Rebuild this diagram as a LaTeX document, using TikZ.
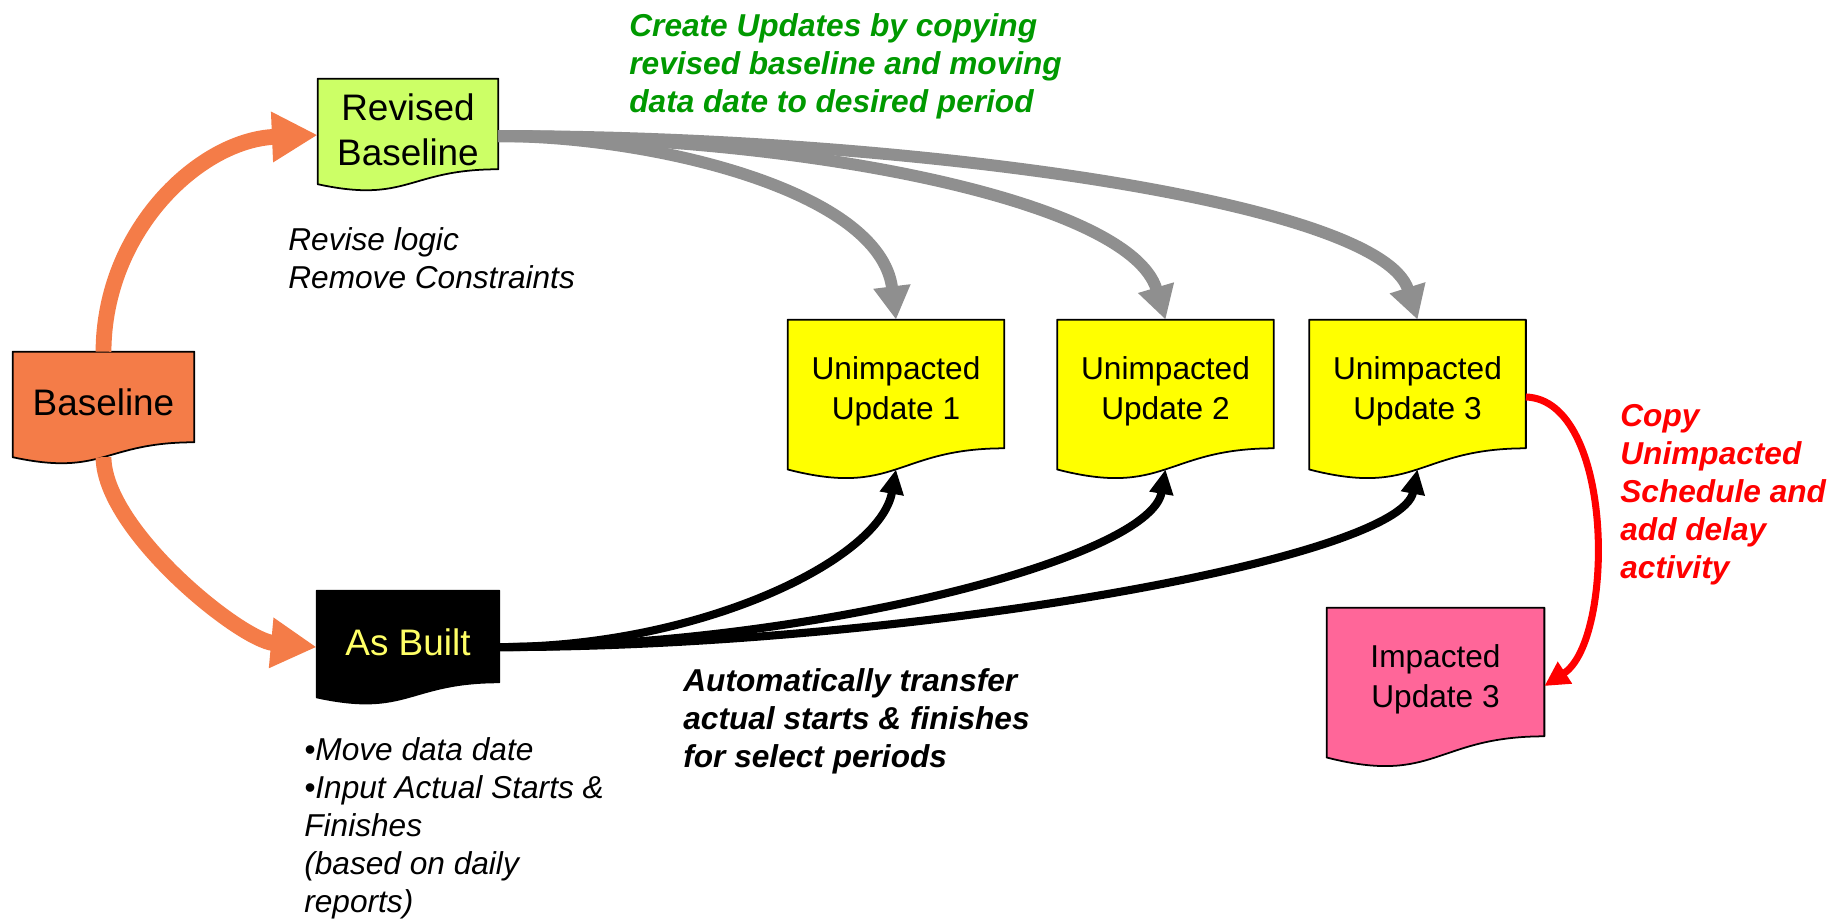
\documentclass[tikz,border=0pt]{standalone}
\usepackage{fontspec}
\setmainfont{Liberation Sans}
\usepackage{tikz}
\usetikzlibrary{arrows.meta,calc,backgrounds}
\definecolor{baseOrange}{HTML}{F47C48}
\definecolor{reviseLime}{HTML}{CCFF66}
\definecolor{updYellow}{HTML}{FFFF00}
\definecolor{impPink}{HTML}{FF6699}
\definecolor{builtYellow}{HTML}{FFFF66}
\definecolor{linkGray}{HTML}{8F8F8F}
\definecolor{noteGreen}{HTML}{009900}
\definecolor{noteRed}{HTML}{FF0000}
\def\unitPx{0.2mm}
\tikzset{
  docbox/.style={
    rectangle,
    inner sep=0pt,
    align=center,
    text=black,
    minimum width=216*\unitPx,
    minimum height=143.4*\unitPx,
    font=\fontsize{18}{22.8}\selectfont
  },
  bigdoc/.style={
    docbox,
    minimum width=181*\unitPx,
    minimum height=100.8*\unitPx,
    font=\fontsize{21}{25.6}\selectfont
  },
  docedge/.style={
    draw=black,
    line width=1pt,
    line join=round
  },
  note/.style={
    anchor=west,
    align=left,
    inner sep=0pt,
    font=\fontsize{18}{21.6}\selectfont\itshape
  },
  boldnote/.style={
    note,
    font=\fontsize{18}{21.6}\selectfont\bfseries\itshape
  },
  orangelink/.style={
    line width=9pt,
    draw=baseOrange,
    -{Triangle[length=26pt,width=27pt]}
  },
  graylink/.style={
    line width=6.8pt,
    draw=linkGray,
    -{Triangle[length=19pt,width=20pt]}
  },
  blacklink/.style={
    line width=4.6pt,
    draw=black,
    -{Triangle[length=14pt,width=13pt]}
  },
  redlink/.style={
    line width=4pt,
    draw=noteRed,
    -{Triangle[length=14pt,width=14pt]}
  }
}
% document outline: straight body down to 0.893 of the node, wavy lower edge below
\newcommand\docshape[2]{%
  \filldraw[docedge, fill=#2] (#1.north west) -- (#1.north east)
    -- ($(#1.north east)!0.8929!(#1.south east)$)
    .. controls ($(#1.north)!0.8929!(#1.south)$) and ($(#1.north)!1.2335!(#1.south)$)
    .. ($(#1.north west)!1.0398!(#1.south west)$) -- cycle;}

\begin{document}
\begin{tikzpicture}[x=\unitPx, y=-\unitPx]
  \useasboundingbox (0,0) rectangle (1847,919);

  % schedules
  \node[bigdoc] (base) at (103.5,402.4) {Baseline};
  \node[bigdoc, minimum width=180*\unitPx] (revised) at (408,129.4) {Revised\\Baseline};
  \node[bigdoc, minimum width=182*\unitPx, minimum height=101.9*\unitPx, text=builtYellow] (asbuilt) at (408,642) {As Built};
  \node[docbox] (upd1) at (896,391.7) {Unimpacted\\Update 1};
  \node[docbox] (upd2) at (1165.5,391.7) {Unimpacted\\Update 2};
  \node[docbox] (upd3) at (1417.5,391.7) {Unimpacted\\Update 3};
  \node[docbox, minimum width=217*\unitPx] (impacted) at (1435.5,679.7) {Impacted\\Update 3};

  \begin{scope}[on background layer]
    \docshape{base}{baseOrange}
    \docshape{revised}{reviseLime}
    \docshape{asbuilt}{black}
    \docshape{upd1}{updYellow}
    \docshape{upd2}{updYellow}
    \docshape{upd3}{updYellow}
    \docshape{impacted}{impPink}
  \end{scope}

  % points on the wavy edges
  \coordinate (basew) at ($(base.north)!1.0393!(base.south)$);
  \coordinate (upd1w) at ($(upd1.north)!1.0393!(upd1.south)$);
  \coordinate (upd2w) at ($(upd2.north)!1.0393!(upd2.south)$);
  \coordinate (upd3w) at ($(upd3.north)!1.0393!(upd3.south)$);

  % baseline split
  \draw[orangelink] (base.north) .. controls (104,230) and (200,140) .. ([yshift=-3.2pt]revised.west);
  \draw[orangelink] (basew) .. controls (104,530) and (240,640) .. ([yshift=-2.9pt]asbuilt.west);

  % copies of the revised baseline
  \draw[graylink] ([yshift=-3.8pt]revised.east) .. controls (650,136) and (880,190) .. (upd1.north);
  \draw[graylink] ([yshift=-3.8pt]revised.east) .. controls (800,136) and (1130,200) .. (upd2.north);
  \draw[graylink] ([yshift=-3.8pt]revised.east) .. controls (900,136) and (1380,200) .. (upd3.north);

  % actuals transferred from the as built
  \draw[blacklink] ([yshift=-2.9pt]asbuilt.east) .. controls (700,647) and (880,560) .. (upd1w);
  \draw[blacklink] ([yshift=-2.9pt]asbuilt.east) .. controls (800,647) and (1150,560) .. (upd2w);
  \draw[blacklink] ([yshift=-2.9pt]asbuilt.east) .. controls (900,647) and (1400,560) .. (upd3w);

  % impacted copy
  \draw[redlink] ([yshift=-3pt]upd3.east) .. controls (1615,400) and (1615,640) .. ([yshift=-3.6pt]impacted.east);

  % notes
  \node[note] (revnote) at (288,258.5) {Revise logic\\Remove Constraints};
  \node[note] (builtnote) at (304,828) {\textbullet Move data date\\\textbullet Input Actual Starts \&\\Finishes\\(based on daily\\reports)};
  \node[boldnote, text=noteGreen] (copynote) at (629,66.5) {Create Updates by copying\\revised baseline and moving\\data date to desired period};
  \node[boldnote] (xfernote) at (683,721.5) {Automatically transfer\\actual starts \& finishes\\for select periods};
  \node[boldnote, text=noteRed] (delaynote) at (1620,495) {Copy\\Unimpacted\\Schedule and\\add delay\\activity};
\end{tikzpicture}
\end{document}
